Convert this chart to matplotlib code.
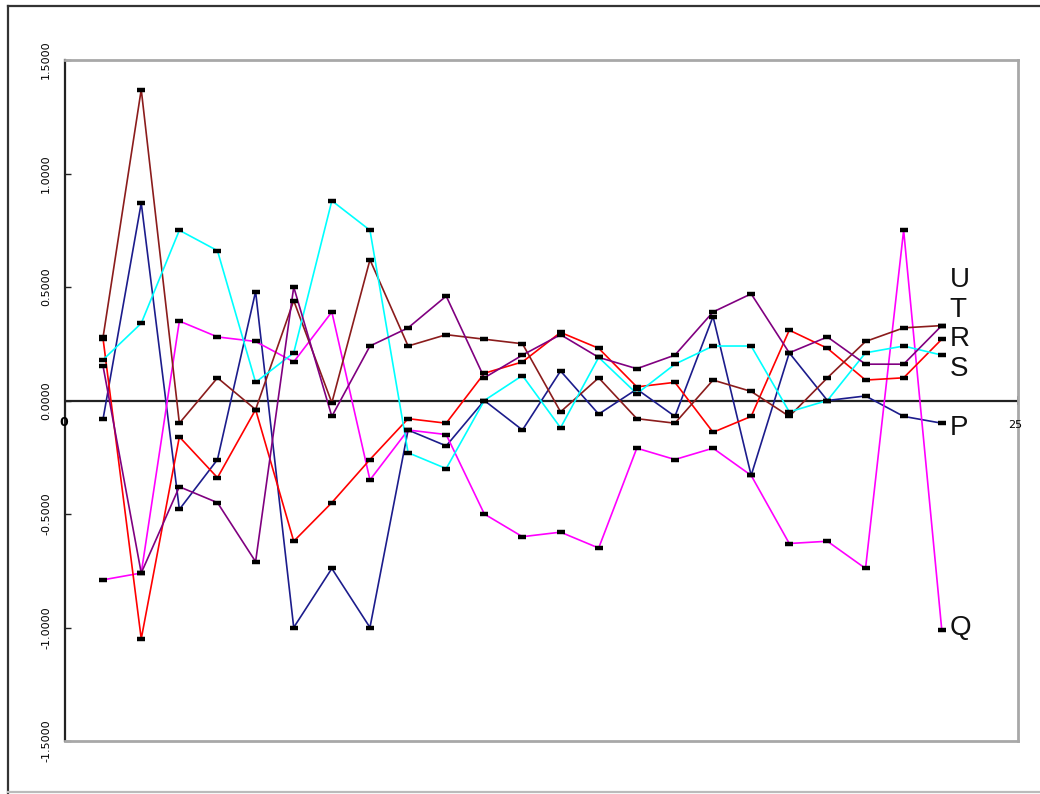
import numpy as np
import matplotlib
matplotlib.use('Agg')
import matplotlib.pyplot as plt
from matplotlib.lines import Line2D

# x positions of the samples
xs = list(range(1, 24))

# series values
P = [-0.08, 0.87, -0.48, -0.26, 0.48, -1.00, -0.74, -1.00, -0.13, -0.20, 0.00, -0.13,
     0.13, -0.06, 0.05, -0.07, 0.37, -0.33, 0.21, 0.00, 0.02, -0.07, -0.10]
Q = [-0.79, -0.76, 0.35, 0.28, 0.26, 0.17, 0.39, -0.35, -0.13, -0.15, -0.50, -0.60,
     -0.58, -0.65, -0.21, -0.26, -0.21, -0.33, -0.63, -0.62, -0.74, 0.75, -1.01]
R = [0.27, -1.05, -0.16, -0.34, -0.04, -0.62, -0.45, -0.26, -0.08, -0.10, 0.12, 0.17,
     0.30, 0.23, 0.06, 0.08, -0.14, -0.07, 0.31, 0.23, 0.09, 0.10, 0.27]
S = [0.28, 1.37, -0.10, 0.10, -0.04, 0.44, -0.01, 0.62, 0.24, 0.29, 0.27, 0.25,
     -0.05, 0.10, -0.08, -0.10, 0.09, 0.04, -0.07, 0.10, 0.26, 0.32, 0.33]
T = [0.18, 0.34, 0.75, 0.66, 0.08, 0.21, 0.88, 0.75, -0.23, -0.30, 0.00, 0.11,
     -0.12, 0.19, 0.03, 0.16, 0.24, 0.24, -0.05, 0.00, 0.21, 0.24, 0.20]
U = [0.15, -0.76, -0.38, -0.45, -0.71, 0.50, -0.07, 0.24, 0.32, 0.46, 0.10, 0.20,
     0.29, 0.19, 0.14, 0.20, 0.39, 0.47, 0.21, 0.28, 0.16, 0.16, 0.33]

names = ['P', 'Q', 'R', 'S', 'T', 'U']
series = [P, Q, R, S, T, U]
colors = ['#1c1c8c', '#ff00ff', '#ff0000', '#8b1c1c', '#00ffff', '#800080']
# where the end labels sit (stacked to avoid overlap)
label_y = [-0.12, -1.0, 0.27, 0.14, 0.40, 0.53]

yticks = [-1.5, -1.0, -0.5, 0.0, 0.5, 1.0, 1.5]

fig = plt.figure(figsize=(10.4, 7.94), dpi=100, facecolor='w')
ax = fig.add_axes([65 / 1040, 1 - 741 / 794, (1018 - 65) / 1040, (741 - 60) / 794])

for name, vals, c in zip(names, series, colors):
    ax.plot(xs, vals, color=c, lw=1.2, zorder=2)
    ax.plot(xs, vals, ls='none', marker='_', ms=6, mew=3.2, color='black', zorder=3)

for name, ly in zip(names, label_y):
    ax.text(23.2, ly, name, fontsize=20, family=['Liberation Sans Narrow', 'Liberation Sans'],
            fontweight='light', ha='left', va='center', color='#111111')

ax.set_xlim(0, 25)
ax.set_ylim(-1.5, 1.5)

# zero line acts as the x axis
ax.axhline(0, color='#222222', lw=1.6, zorder=1)
ax.plot([25, 25], [-0.015, 0.015], color='#222222', lw=1.2, clip_on=False)
ax.annotate('0', (0, 0), xytext=(-1, -16), textcoords='offset points',
            ha='center', va='center', fontsize=9, fontweight='bold')
ax.annotate('25', (25, 0), xytext=(-2, -18), textcoords='offset points',
            ha='center', va='center', fontsize=8)

ax.set_xticks([])
ax.set_yticks(yticks)
ax.set_yticklabels(['%.4f' % v for v in yticks], rotation=90, va='center', fontsize=8)
ax.tick_params(axis='y', direction='in', length=4, width=1, pad=10, color='#222222')

ax.spines['left'].set_color('#222222')
ax.spines['left'].set_linewidth(1.6)
for s in ['top', 'right', 'bottom']:
    ax.spines[s].set_color('#a8a8a8')
    ax.spines[s].set_linewidth(2.0)

# outer frame around the chart
fig.add_artist(Line2D([8 / 1040, 8 / 1040], [1 - 6 / 794, 1 - 793 / 794], color='#333333', lw=1.6))
fig.add_artist(Line2D([8 / 1040, 1.0], [1 - 6 / 794, 1 - 6 / 794], color='#333333', lw=1.6))
fig.add_artist(Line2D([8 / 1040, 1.0], [1 - 792 / 794, 1 - 792 / 794], color='#bbbbbb', lw=1.6))

fig.savefig('out.png', dpi=100, facecolor='w')
